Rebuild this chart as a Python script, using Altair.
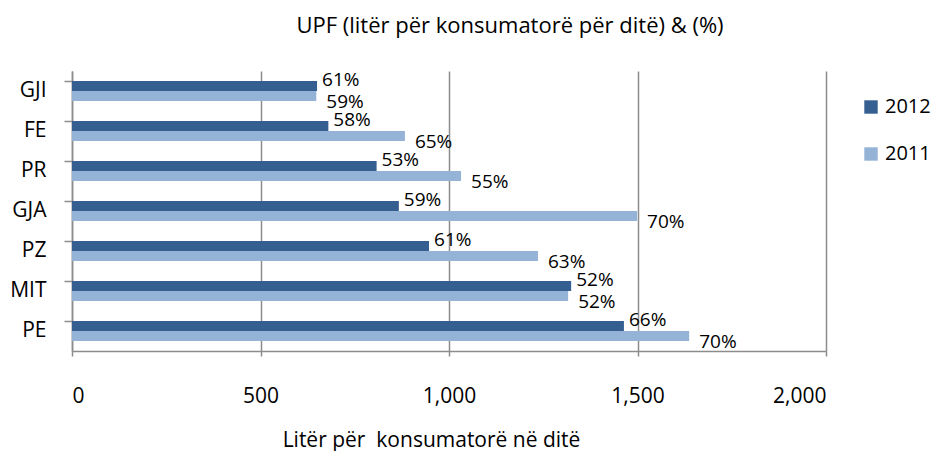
import altair as alt
import pandas as pd

categories = ["GJI", "FE", "PR", "GJA", "PZ", "MIT", "PE"]
series = ["2012", "2011"]
values_2012 = [650, 680, 808, 867, 947, 1324, 1464]
values_2011 = [648, 883, 1032, 1499, 1236, 1316, 1637]
pct_2012 = ["61%", "58%", "53%", "59%", "61%", "52%", "66%"]
pct_2011 = ["59%", "65%", "55%", "70%", "63%", "52%", "70%"]

rows = []
for i, c in enumerate(categories):
    rows.append({"cat": c, "year": "2012", "val": values_2012[i], "pct": pct_2012[i]})
    rows.append({"cat": c, "year": "2011", "val": values_2011[i], "pct": pct_2011[i]})
df = pd.DataFrame(rows)

FONT = "Open Sans"
GRAY = "#8c8c8c"

y_enc = alt.Y("cat:N", sort=categories,
              scale=alt.Scale(paddingInner=0.5, paddingOuter=0.25),
              axis=alt.Axis(title=None, labelFont=FONT, labelFontSize=21, labelColor="#000000",
                            labelPadding=18, tickSize=8, tickColor=GRAY, domainColor=GRAY,
                            domainWidth=1.5, tickWidth=1.5, bandPosition=0, grid=False))
x_enc = alt.X("val:Q", scale=alt.Scale(domain=[0, 2000], nice=False),
              axis=alt.Axis(values=[0, 500, 1000, 1500, 2000], format=",.0f",
                            title="Litër për\u00a0 konsumatorë në ditë",
                            titleFont=FONT, titleFontSize=21, titleFontWeight="normal",
                            titleColor="#000000", titleX=359, titleY=95,
                            titleBaseline="alphabetic", titleAnchor="middle",
                            labelFont=FONT, labelFontSize=21, labelColor="#000000",
                            labelBaseline="alphabetic", labelPadding=46, tickSize=5,
                            tickColor=GRAY, domainColor=GRAY, domainWidth=1.5, tickWidth=1.5,
                            gridColor=GRAY, gridWidth=1.5))
yoff = alt.YOffset("year:N", sort=series)
color = alt.Color("year:N", sort=series,
                  scale=alt.Scale(domain=series, range=["#365F91", "#95B3D7"]),
                  legend=alt.Legend(title=None, orient="none", legendX=789, legendY=26,
                                    symbolType="square", symbolSize=180, symbolStrokeWidth=0,
                                    labelFont=FONT, labelFontSize=20, labelColor="#000000",
                                    rowPadding=27, labelOffset=4))

bars = alt.Chart(df).mark_bar(size=10).encode(y=y_enc, x=x_enc, yOffset=yoff, color=color)

text_2012 = alt.Chart(df).transform_filter(alt.datum.year == "2012").mark_text(
    align="left", baseline="middle", dx=5, dy=-6, font=FONT, fontSize=19, color="#000000"
).encode(y=alt.Y("cat:N", sort=categories), x="val:Q", yOffset=yoff, text="pct:N")

text_2011 = alt.Chart(df).transform_filter(alt.datum.year == "2011").mark_text(
    align="left", baseline="middle", dx=10, dy=6, font=FONT, fontSize=19, color="#000000"
).encode(y=alt.Y("cat:N", sort=categories), x="val:Q", yOffset=yoff, text="pct:N")

chart = alt.layer(bars, text_2012, text_2011).properties(
    width=754, height=280,
    title=alt.TitleParams("UPF (litër për konsumatorë për ditë) & (%)", font=FONT, fontSize=22,
                          fontWeight="normal", color="#000000", anchor="middle", dx=61,
                          offset=33),
    autosize=alt.AutoSizeParams(type="none"),
    padding={"left": 64, "top": 63, "right": 108, "bottom": 100},
).configure_view(stroke=None).configure_axisX(grid=True)

chart.save("out.html", embed_options={"renderer": "svg", "actions": False})
